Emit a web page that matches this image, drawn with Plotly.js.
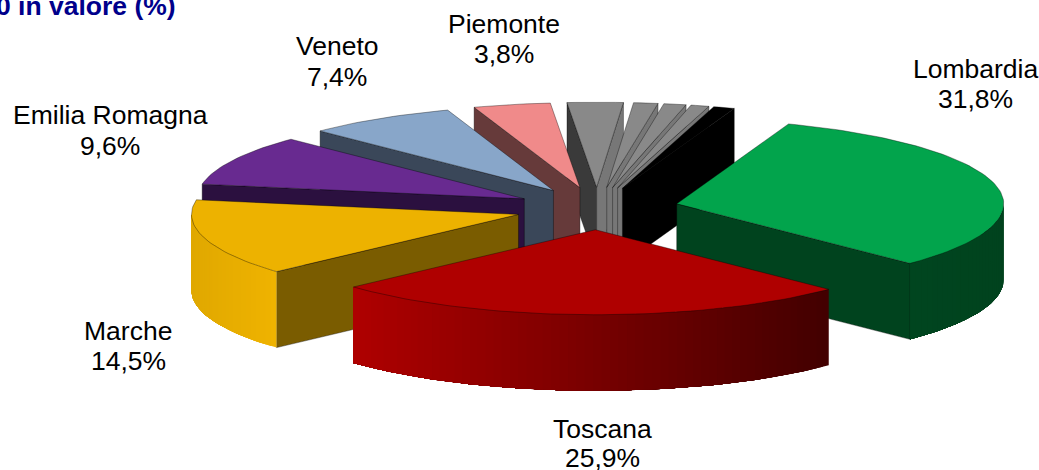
<!DOCTYPE html>
<html>
<head>
<meta charset="utf-8">
<script src="https://cdn.plot.ly/plotly-3.0.1.min.js"></script>
<style>html,body{margin:0;padding:0;background:#fff}#chart{width:1039px;height:470px}</style>
</head>
<body>
<div id="chart"></div>
<script>
// Data (shares in %, clockwise from Lombardia)
const categories = ["Lombardia","Toscana","Marche","Emilia Romagna","Veneto","Piemonte","Altre 1","Altre 2","Altre 3","Altre 4","Altre 5"];
const shares = [31.8,25.9,14.5,9.6,7.4,3.8,2.75,1.2,1.1,0.9,1.05];
const labelled = [true,true,true,true,true,true,false,false,false,false,false];
const titleText = "0 in valore (%)";

// Styles
const topColors  = ["#02A44C","#AF0000","#EDB200","#682A90","#88A6C9","#F08A8A","#898989","#898989","#898989","#898989","#000000"];
const startFace  = ["#00451F","#500000","#7A5C00","#2B103F","#3A4759","#663A3A","#3A3A3A","#3A3A3A","#3A3A3A","#3A3A3A","#000000"];
const endFace    = ["#00431E","#500000","#7A5C00","#2B103F","#3A4759","#663A3A","#777777","#777777","#777777","#777777","#000000"];
const wallLeft   = ["#00451F","#AF0000","#E0A800","#2B103F","#3A4759","#663A3A","#777777","#777777","#777777","#777777","#000000"];
const wallRight  = ["#00431E","#420000","#EFB300","#2B103F","#3A4759","#663A3A","#777777","#777777","#777777","#777777","#000000"];
const labelPos = {"Lombardia":[975,69,99],"Toscana":[602,429,458],"Marche":[128,331,361],"Emilia Romagna":[110,115,146],"Veneto":[337,46,77],"Piemonte":[504,24,54]};

// Projection of the tilted pie
const cx=597, cy=208.5, rx=327, ry=85, explode=0.25, depth=76, firstAngle=20;
const rad=d=>d*Math.PI/180;
const hex=c=>[1,3,5].map(i=>parseInt(c.substr(i,2),16));
const mix=(a,b,t)=>{const A=hex(a),B=hex(b);return "rgb("+A.map((v,i)=>Math.round(v+(B[i]-v)*t)).join(",")+")";};
const edge="rgba(0,0,0,0.6)";

const total=shares.reduce((a,b)=>a+b,0);
let acc=firstAngle;
const slices=shares.map((v,i)=>{
  const s=acc, e=acc+v/total*360; acc=e;
  const m=(s+e)/2;
  return {i,s,e,ox:cx+explode*rx*Math.sin(rad(m)),oy:cy-explode*ry*Math.cos(rad(m))};
});
const traces=[];
function poly(xs,ys,fill,line,width){
  traces.push({type:"scatter",mode:"lines",x:xs.concat(xs[0]),y:ys.concat(ys[0]),fill:"toself",fillcolor:fill,
    line:{color:line,width:width},hoverinfo:"skip",showlegend:false});
}
function pt(sl,a,dz){return [sl.ox+rx*Math.sin(rad(a)),sl.oy-ry*Math.cos(rad(a))+(dz||0)];}
function face(sl,a,col){
  const p=pt(sl,a);
  poly([sl.ox,p[0],p[0],sl.ox],[sl.oy,p[1],p[1]+depth,sl.oy+depth],col,edge,0.6);
}
function drawSlice(sl){
  const i=sl.i;
  if(Math.sin(rad(sl.s))<0) face(sl,sl.s,startFace[i]);
  if(Math.sin(rad(sl.e))>0) face(sl,sl.e,endFace[i]);
  // outer wall: only the part that faces the viewer (90..270 degrees)
  const a0=Math.max(sl.s,90), a1=Math.min(sl.e,270);
  if(a1>a0){
    const n=Math.ceil((a1-a0)/1.5);
    const xl=Math.min(pt(sl,a0)[0],pt(sl,a1)[0]), xr=Math.max(pt(sl,a0)[0],pt(sl,a1)[0]);
    // each band runs on to the end of the wall and the next band paints over it, so no seams show
    for(let k=0;k<n;k++){
      const b0=a0+(a1-a0)*k/n, b1=a0+(a1-a0)*(k+1)/n;
      const upX=[],upY=[],loX=[],loY=[];
      for(let j=k;j<=n;j++){
        const p=pt(sl,a0+(a1-a0)*j/n);
        upX.push(p[0]);upY.push(p[1]);
        loX.unshift(p[0]);loY.unshift(p[1]+depth);
      }
      const t=((pt(sl,b0)[0]+pt(sl,b1)[0])/2-xl)/(xr-xl);
      const c=mix(wallLeft[i],wallRight[i],t);
      poly(upX.concat(loX),upY.concat(loY),c,c,0);
    }
  }
  // top
  const xs=[sl.ox], ys=[sl.oy];
  const n=Math.max(4,Math.ceil((sl.e-sl.s)/1.5));
  for(let k=0;k<=n;k++){
    const p=pt(sl,sl.s+(sl.e-sl.s)*k/n);
    xs.push(p[0]); ys.push(p[1]);
  }
  poly(xs,ys,topColors[i],edge,0.6);
}
// painter's order: the narrow slices from left to right, then the left side back to front, Toscana last
const order=[6,7,8,9,10,5,4,3,2,0,1];
order.forEach(i=>drawSlice(slices[i]));

const fontFam='"Liberation Sans", Arial, sans-serif';
const annotations=[];
categories.forEach((c,i)=>{
  if(!labelled[i]) return;
  const lp=labelPos[c];
  const ann=(t,y)=>annotations.push({text:t,x:lp[0],y:y,xref:"x",yref:"y",showarrow:false,xanchor:"center",yanchor:"middle",
    font:{family:fontFam,size:26.5,color:"#000"}});
  ann(c,lp[1]);
  ann(shares[i].toFixed(1).replace(".",",")+"%",lp[2]);
});
annotations.push({text:"<b>"+titleText+"</b>",x:178,y:6,xref:"x",yref:"y",showarrow:false,xanchor:"right",yanchor:"middle",
  font:{family:fontFam,size:26.5,color:"#00008B"}});

Plotly.newPlot("chart",traces,{
  width:1039,height:470,margin:{l:0,r:0,t:0,b:0},paper_bgcolor:"#fff",plot_bgcolor:"#fff",showlegend:false,
  xaxis:{range:[0,1039],visible:false,fixedrange:true},
  yaxis:{range:[470,0],visible:false,fixedrange:true},
  annotations:annotations
},{displayModeBar:false,staticPlot:true});
</script>
</body>
</html>
